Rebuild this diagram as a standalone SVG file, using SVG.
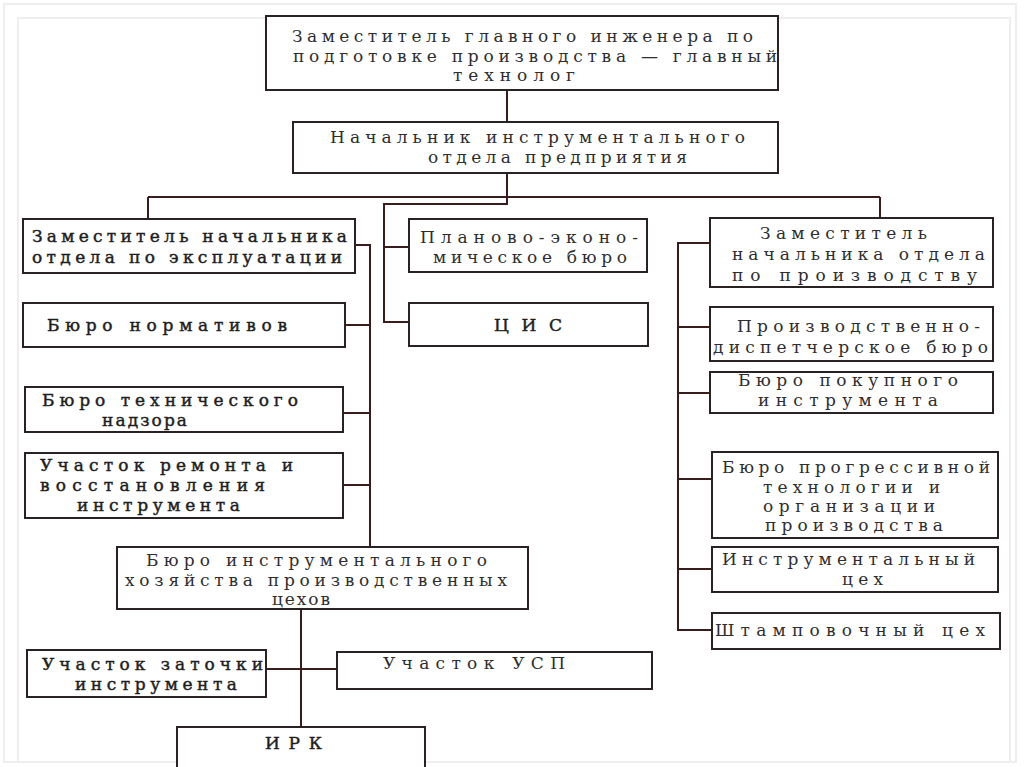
<svg xmlns="http://www.w3.org/2000/svg" width="1024" height="767" viewBox="0 0 1024 767">
<style>
.box{fill:#fff;stroke:#2a2222;stroke-width:2}
.c{fill:none;stroke:#3a1c1c;stroke-width:2}
.t{font-family:"DejaVu Serif","Liberation Serif",serif;font-size:17px;fill:#2e2e2e}
.b{fill:#1e1e1e;stroke:#1e1e1e;stroke-width:0.45px}
.frame{fill:none;stroke:#eeeeee;stroke-width:2}
</style>
<rect width="1024" height="767" fill="#ffffff"/>
<rect class="frame" x="4" y="4" width="1012" height="758"/>
<rect class="frame" x="18" y="18" width="992" height="744" stroke="#f5f5f5"/>

<g id="connectors">
<path class="c" d="M507 90V122"/>
<path class="c" d="M507 173V197"/>
<path class="c" d="M148 197H880"/>
<path class="c" d="M148 197V219"/>
<path class="c" d="M880 197V218"/>
<path class="c" d="M507 197V204H384V322H409"/>
<path class="c" d="M384 247H409"/>
<path class="c" d="M355 245H370V548"/>
<path class="c" d="M345 325H370"/>
<path class="c" d="M343 413H370"/>
<path class="c" d="M343 485H370"/>
<path class="c" d="M710 243H678V630H712"/>
<path class="c" d="M678 327H710"/>
<path class="c" d="M678 393H710"/>
<path class="c" d="M678 479H712"/>
<path class="c" d="M678 569H712"/>
<path class="c" d="M301 609V727"/>
<path class="c" d="M266 669H337"/>
</g>

<g id="n-chief-tech">
<rect class="box" x="266" y="16" width="512" height="74"/>
<text class="t" x="292" y="42" textLength="461" lengthAdjust="spacing">Заместитель главного инженера по</text>
<text class="t" x="293" y="62" textLength="484" lengthAdjust="spacing">подготовке производства  — главный</text>
<text class="t" x="453" y="81" textLength="122" lengthAdjust="spacing">технолог</text>
</g>

<g id="n-head">
<rect class="box" x="293" y="122" width="485" height="51"/>
<text class="t" x="330" y="143" textLength="415" lengthAdjust="spacing">Начальник инструментального</text>
<text class="t" x="428" y="163" textLength="259" lengthAdjust="spacing">отдела предприятия</text>
</g>

<g id="n-deputy-expl">
<rect class="box" x="23" y="219" width="332" height="54"/>
<text class="t b" x="32" y="242" textLength="315" lengthAdjust="spacing">Заместитель начальника</text>
<text class="t b" x="32" y="263" textLength="310" lengthAdjust="spacing">отдела по эксплуатации</text>
</g>

<g id="n-plan">
<rect class="box" x="409" y="219" width="238" height="53"/>
<text class="t" x="420" y="243" textLength="218" lengthAdjust="spacing">Планово-эконо-</text>
<text class="t" x="433" y="263" textLength="194" lengthAdjust="spacing">мическое бюро</text>
</g>

<g id="n-cis">
<rect class="box" x="409" y="303" width="239" height="43"/>
<text class="t b" x="494" y="331" textLength="68" lengthAdjust="spacing">ЦИС</text>
</g>

<g id="n-deputy-prod">
<rect class="box" x="710" y="218" width="283" height="69"/>
<text class="t" x="760" y="239" textLength="167" lengthAdjust="spacing">Заместитель</text>
<text class="t" x="732" y="260" textLength="253" lengthAdjust="spacing">начальника отдела</text>
<text class="t" x="732" y="281" textLength="245" lengthAdjust="spacing">по  производству</text>
</g>

<g id="n-norm">
<rect class="box" x="23" y="303" width="322" height="44"/>
<text class="t b" x="47" y="331" textLength="240" lengthAdjust="spacing">Бюро нормативов</text>
</g>

<g id="n-tech-sup">
<rect class="box" x="25" y="387" width="318" height="45"/>
<text class="t b" x="42" y="406" textLength="256" lengthAdjust="spacing">Бюро технического</text>
<text class="t b" x="102" y="426" textLength="85" lengthAdjust="spacing">надзора</text>
</g>

<g id="n-repair">
<rect class="box" x="25" y="453" width="318" height="65"/>
<text class="t b" x="40" y="471" textLength="253" lengthAdjust="spacing">Участок ремонта и</text>
<text class="t b" x="40" y="491" textLength="225" lengthAdjust="spacing">восстановления</text>
<text class="t b" x="77" y="511" textLength="163" lengthAdjust="spacing">инструмента</text>
</g>

<g id="n-disp">
<rect class="box" x="710" y="307" width="283" height="54"/>
<text class="t" x="737" y="332" textLength="243" lengthAdjust="spacing">Производственно-</text>
<text class="t" x="713" y="353" textLength="275" lengthAdjust="spacing">диспетчерское бюро</text>
</g>

<g id="n-purchase">
<rect class="box" x="710" y="372" width="283" height="41"/>
<text class="t" x="738" y="386" textLength="220" lengthAdjust="spacing">Бюро покупного</text>
<text class="t" x="758" y="406" textLength="180" lengthAdjust="spacing">инструмента</text>
</g>

<g id="n-progress">
<rect class="box" x="712" y="452" width="286" height="86"/>
<text class="t" x="722" y="473" textLength="268" lengthAdjust="spacing">Бюро прогрессивной</text>
<text class="t" x="763" y="493" textLength="177" lengthAdjust="spacing">технологии и</text>
<text class="t" x="763" y="512" textLength="172" lengthAdjust="spacing">организации</text>
<text class="t" x="765" y="531" textLength="178" lengthAdjust="spacing">производства</text>
</g>

<g id="n-tool-shop">
<rect class="box" x="712" y="547" width="286" height="45"/>
<text class="t" x="722" y="565" textLength="253" lengthAdjust="spacing">Инструментальный</text>
<text class="t" x="842" y="585" textLength="41" lengthAdjust="spacing">цех</text>
</g>

<g id="n-stamp">
<rect class="box" x="712" y="613" width="288" height="36"/>
<text class="t" x="715" y="636" textLength="270" lengthAdjust="spacing">Штамповочный цех</text>
</g>

<g id="n-bureau-shops">
<rect class="box" x="117" y="547" width="411" height="62"/>
<text class="t" x="146" y="566" textLength="341" lengthAdjust="spacing">Бюро инструментального</text>
<text class="t" x="125" y="586" textLength="382" lengthAdjust="spacing">хозяйства производственных</text>
<text class="t" x="272" y="605" textLength="58" lengthAdjust="spacing">цехов</text>
</g>

<g id="n-sharpen">
<rect class="box" x="27" y="650" width="239" height="47"/>
<text class="t b" x="42" y="670" textLength="221" lengthAdjust="spacing">Участок заточки</text>
<text class="t b" x="75" y="690" textLength="162" lengthAdjust="spacing">инструмента</text>
</g>

<g id="n-usp">
<rect class="box" x="337" y="652" width="315" height="37"/>
<text class="t" x="383" y="669" textLength="182" lengthAdjust="spacing">Участок УСП</text>
</g>

<g id="n-irk">
<rect class="box" x="177" y="727" width="248" height="50"/>
<text class="t b" x="265" y="749" textLength="57" lengthAdjust="spacing">ИРК</text>
</g>
</svg>
